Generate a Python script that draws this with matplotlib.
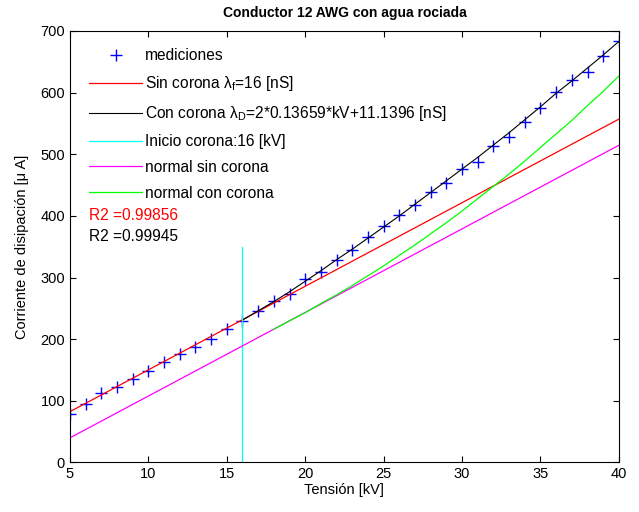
import numpy as np
import matplotlib
matplotlib.use("Agg")
import matplotlib.pyplot as plt

plt.rcParams['font.family'] = ['Liberation Sans', 'DejaVu Sans']
plt.rcParams['mathtext.fontset'] = 'custom'
plt.rcParams['mathtext.rm'] = 'Liberation Sans'
plt.rcParams['mathtext.it'] = 'Liberation Sans'
plt.rcParams['mathtext.default'] = 'regular'

# measured points (kV, uA)
kv_med = list(range(5, 41))
i_med = [78, 95, 112, 122, 136, 148.5, 163, 175.6, 188, 201, 217, 230,
         245, 262, 273.5, 298, 308.7, 328, 345, 365.6, 384, 401, 418.5, 438.6,
         453.7, 476, 486.7, 512.7, 528, 551.6, 575, 601.5, 621, 634, 659, 683]

# model without corona (red) and normal without corona (magenta)
kv_lin = [5, 40]
i_sin = [82.5, 557]
i_normal_sin = [40, 514.6]

# model with corona (black), from 16 kV
kv_con = list(range(16, 41))
i_con = [231, 246, 261, 277, 294, 311, 329, 346, 364, 382, 400, 419, 438,
         457, 476, 495, 515, 535, 556, 577, 599, 619, 640, 661, 683]

# normal with corona (green), from 18 kV
kv_ncon = list(range(18, 41))
i_normal_con = [216, 230, 243, 258, 272, 287, 303, 319, 336, 353, 371, 389,
                408, 428, 448, 468, 489, 511, 533, 555, 579, 602, 627]

# corona onset
kv_inicio = [16, 16]
i_inicio = [0, 350]

r2_sin = 0.99856
r2_con = 0.99945

fig = plt.figure(figsize=(6.39, 5.12), dpi=100)
ax = fig.add_axes([0.1095, 0.0967, 0.859, 0.8428])

ax.plot(kv_med, i_med, '+', color='#0000FF', markersize=9, markeredgewidth=1,
        label='mediciones')
ax.plot(kv_lin, i_sin, color='#FF0000', lw=0.9,
        label=r'Sin corona $\lambda_f$=16 [nS]')
ax.plot(kv_con, i_con, color='black', lw=0.8,
        label=r'Con corona $\lambda_D$=2*0.13659*kV+11.1396 [nS]')
ax.plot(kv_inicio, i_inicio, color='#00FFFF', lw=0.9,
        label='Inicio corona:16 [kV]')
ax.plot(kv_lin, i_normal_sin, color='#FF00FF', lw=0.9, label='normal sin corona')
ax.plot(kv_ncon, i_normal_con, color='#00FF00', lw=0.9, label='normal con corona')

ax.set_xlim(5, 40)
ax.set_ylim(0, 700)
ax.set_xticks(range(5, 41, 5))
ax.set_yticks(range(0, 701, 100))
ax.tick_params(direction='in', top=True, right=True, labelsize=10.5, length=4)
for s in ax.spines.values():
    s.set_linewidth(0.8)

ax.set_xlabel('Tensión [kV]', fontsize=10.5, labelpad=1)
ax.set_ylabel('Corriente de disipación [μ A]', fontsize=10.5, labelpad=8)
ax.set_title('Conductor 12 AWG con agua rociada', fontsize=10, fontweight='bold', pad=10)

ax.legend(loc='upper left', frameon=False, fontsize=11.2, handlelength=3.4,
          handletextpad=0.2, labelspacing=0.7, borderaxespad=0.3,
          bbox_to_anchor=(0.015, 0.985))

ax.text(6.2, 401, 'R2 =%.5f' % r2_sin, color='#FF0000', fontsize=11.2, va='center')
ax.text(6.2, 367, 'R2 =%.5f' % r2_con, color='black', fontsize=11.2, va='center')

fig.savefig('out.png', dpi=100)
